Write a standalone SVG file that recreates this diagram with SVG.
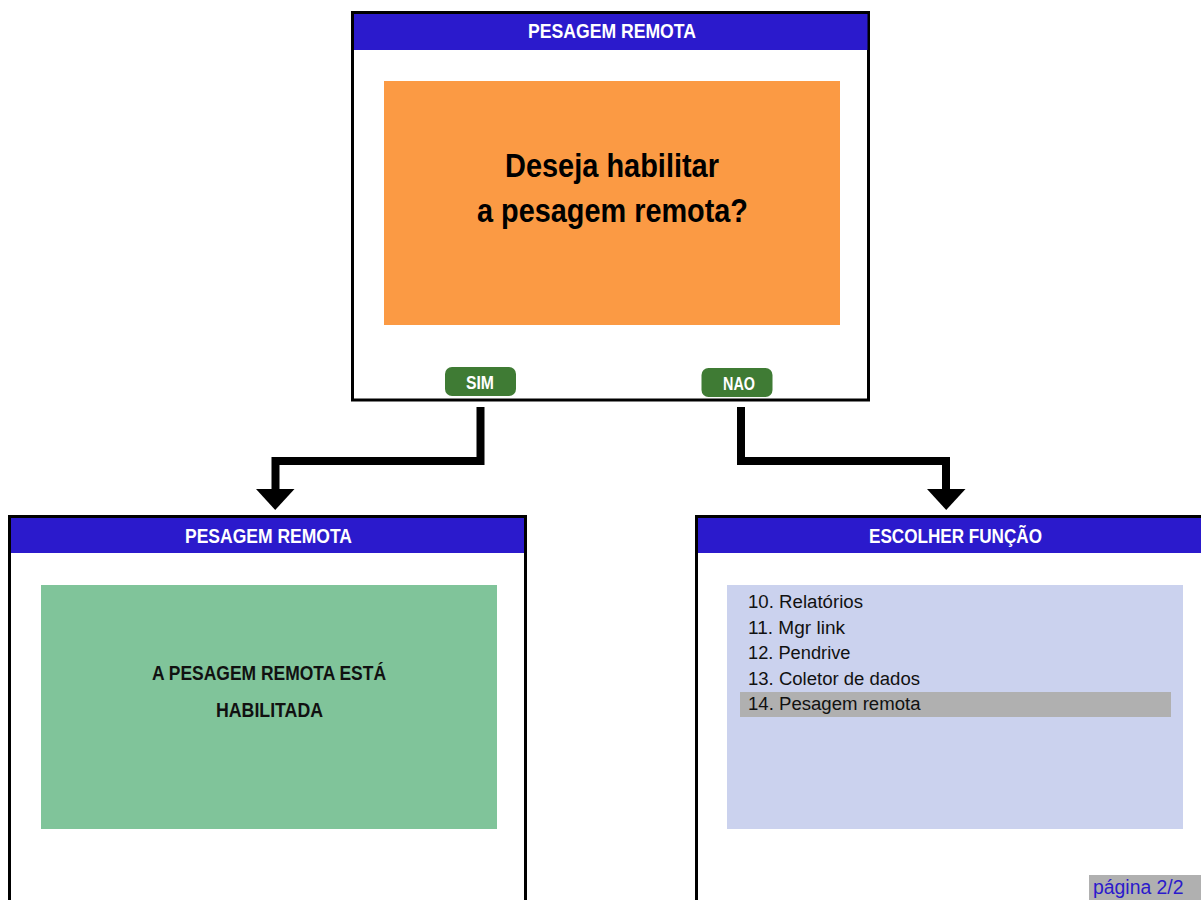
<svg xmlns="http://www.w3.org/2000/svg" width="1201" height="900" viewBox="0 0 1201 900">
<style>
.frame{fill:#fff;stroke:#000;stroke-width:3}
.hdr{fill:#2B1ACC}
.t{font-family:"Liberation Sans",Arial,sans-serif}
.ht{fill:#fff;font-size:21px;font-weight:bold}
.btn{fill:#3F7B34}
.bt{fill:#fff;font-size:18px;font-weight:bold}
.li{fill:#111;font-size:18px}
.conn{fill:none;stroke:#000;stroke-width:8}
</style>
<g id="node-top">
<rect class="frame" x="352.5" y="12.5" width="516" height="387.5"/>
<rect class="hdr" x="354" y="14" width="513.5" height="36"/>
<text class="t ht" x="528" y="38" textLength="168" lengthAdjust="spacingAndGlyphs">PESAGEM REMOTA</text>
<rect x="384" y="81" width="456" height="244" fill="#FB9A44"/>
<text class="t" x="505" y="177" font-size="34" font-weight="bold" fill="#000" textLength="214" lengthAdjust="spacingAndGlyphs">Deseja habilitar</text>
<text class="t" x="477" y="222" font-size="34" font-weight="bold" fill="#000" textLength="271" lengthAdjust="spacingAndGlyphs">a pesagem remota?</text>
<g id="btn-sim"><rect class="btn" x="445" y="367" width="71" height="29" rx="7"/><text class="t bt" x="466" y="389" textLength="28" lengthAdjust="spacingAndGlyphs">SIM</text></g>
<g id="btn-nao"><rect class="btn" x="701.5" y="368" width="71" height="29" rx="7"/><text class="t bt" x="723" y="389.5" textLength="32" lengthAdjust="spacingAndGlyphs">NAO</text></g>
</g>
<g id="connectors">
<polyline class="conn" points="480.5,407 480.5,461 275.5,461 275.5,490"/>
<polygon points="256,489 294.5,489 275.2,510" fill="#000"/>
<polyline class="conn" points="741,407 741,461 946,461 946,490"/>
<polygon points="927,489 965.5,489 946.2,510" fill="#000"/>
</g>
<g id="node-left">
<rect class="frame" x="9.5" y="516.5" width="516" height="400"/>
<rect class="hdr" x="11" y="518" width="513" height="35"/>
<text class="t ht" x="185" y="542.5" textLength="167" lengthAdjust="spacingAndGlyphs">PESAGEM REMOTA</text>
<rect x="41" y="585" width="456" height="244" fill="#80C49A"/>
<text class="t" x="152" y="680" font-size="20" font-weight="bold" fill="#111" textLength="234" lengthAdjust="spacingAndGlyphs">A PESAGEM REMOTA ESTÁ</text>
<text class="t" x="216" y="717" font-size="20" font-weight="bold" fill="#111" textLength="107" lengthAdjust="spacingAndGlyphs">HABILITADA</text>
</g>
<g id="node-right">
<rect class="frame" x="696.5" y="516.5" width="516" height="400"/>
<rect class="hdr" x="698" y="518" width="513" height="35"/>
<text class="t ht" x="869" y="542.5" textLength="173" lengthAdjust="spacingAndGlyphs">ESCOLHER FUNÇÃO</text>
<rect x="727" y="585" width="456" height="244" fill="#CBD2EE"/>
<rect x="740" y="692" width="431" height="25" fill="#B0B0B0"/>
<text class="t li" x="748" y="608" textLength="115" lengthAdjust="spacingAndGlyphs">10. Relatórios</text>
<text class="t li" x="748" y="634" textLength="97" lengthAdjust="spacingAndGlyphs">11. Mgr link</text>
<text class="t li" x="748" y="659" textLength="102.5" lengthAdjust="spacingAndGlyphs">12. Pendrive</text>
<text class="t li" x="748" y="684.5" textLength="172" lengthAdjust="spacingAndGlyphs">13. Coletor de dados</text>
<text class="t li" x="748" y="710" textLength="172.5" lengthAdjust="spacingAndGlyphs">14. Pesagem remota</text>
<rect x="1089" y="875" width="112" height="25" fill="#B0B0B0"/>
<text class="t" x="1093" y="894" font-size="20" fill="#2B1ACC" textLength="90.5" lengthAdjust="spacingAndGlyphs">página 2/2</text>
</g>
</svg>
